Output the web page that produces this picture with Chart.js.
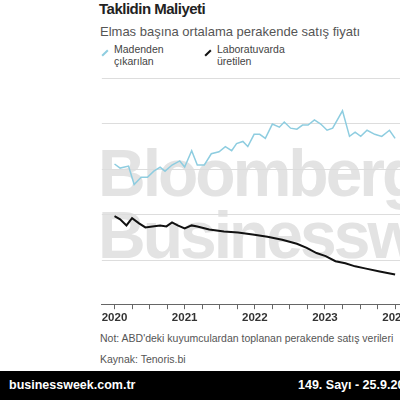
<!DOCTYPE html><html><head><script src="https://cdn.jsdelivr.net/npm/chart.js@4"></script>
<style>body{margin:0;width:400px;height:400px;overflow:hidden;position:relative;background:#fff;font-family:Arial,"Liberation Sans",sans-serif}
.a{position:absolute;white-space:nowrap}
</style></head><body>
<div class="a" style="left:99px;top:0px;font-size:15px;font-weight:bold;color:#222;letter-spacing:-0.5px">Taklidin Maliyeti</div>
<div class="a" style="left:100px;top:24px;font-size:13px;color:#555">Elmas başına ortalama perakende satış fiyatı</div>
<div class="a" style="left:101px;top:52px;width:8px;height:2px;background:#8ecde0;transform:rotate(-45deg)"></div>
<div class="a" style="left:114px;top:43px;font-size:10.5px;color:#444;line-height:12px">Madenden<br>çıkarılan</div>
<div class="a" style="left:204px;top:52px;width:8px;height:2px;background:#111;transform:rotate(-45deg)"></div>
<div class="a" style="left:217px;top:43px;font-size:10.5px;color:#444;line-height:12px">Laboratuvarda<br>üretilen</div>
<div class="a" style="left:98px;top:142px;font-size:66px;font-weight:bold;color:#e3e3e3;letter-spacing:-3px;line-height:62px">Bloomberg<br>Businessweek</div>
<div class="a" style="left:100px;top:77px;width:380px;height:250px"><canvas id="c"></canvas></div>
<div class="a" style="left:100px;top:332px;font-size:10.5px;color:#555">Not: ABD'deki kuyumculardan toplanan perakende satış verileri</div>
<div class="a" style="left:100px;top:353px;font-size:10.5px;color:#555">Kaynak: Tenoris.bi</div>
<div class="a" style="left:0;top:371px;width:400px;height:29px;background:#000"></div>
<div class="a" style="left:9px;top:378px;font-size:12.5px;font-weight:bold;color:#fff">businessweek.com.tr</div>
<div class="a" style="left:298px;top:378px;font-size:12.5px;font-weight:bold;color:#fff">149. Sayı - 25.9.2024</div>
<script>
const minedX=[2020.0,2020.08,2020.2,2020.28,2020.38,2020.47,2020.56,2020.65,2020.72,2020.82,2020.93,2021.0,2021.1,2021.18,2021.28,2021.38,2021.49,2021.58,2021.67,2021.74,2021.83,2021.9,2021.99,2022.07,2022.15,2022.25,2022.35,2022.42,2022.51,2022.6,2022.68,2022.76,2022.85,2022.94,2023.03,2023.11,2023.25,2023.35,2023.43,2023.51,2023.6,2023.71,2023.81,2023.92,2024.0];
const minedY=[165,169,167,185,178,178,172,168,172,166,162,168,152,166,166,155,153,148,152,145,143,148,136,136,140,126,129,124,130,131,127,127,122,126,132,130,113,138,134,138,132,136,138,132,140];
const labX=[2020.0,2020.08,2020.17,2020.25,2020.35,2020.44,2020.54,2020.65,2020.74,2020.82,2020.9,2021.0,2021.1,2021.18,2021.35,2021.56,2021.76,2021.97,2022.18,2022.39,2022.6,2022.74,2022.88,2023.01,2023.15,2023.29,2023.43,2023.57,2023.78,2024.0];
const labY=[216,219,225,218,223,227,226,225,226,222,225,228,225,226,229,231,232,234,236,239,243,247,252,255,260,262,265,267,270,273];
const yearTicks=[2020,2021,2022,2023,2024];
const toVal=y=>1000+(259-y)/44.5*1000;
const mk=(xs,ys)=>xs.map((x,i)=>({x,y:toVal(ys[i])}));
new Chart(document.getElementById('c'),{type:'line',
data:{datasets:[
{data:mk(minedX,minedY),borderColor:'#8ecde0',borderWidth:1.5,pointRadius:0,tension:0},
{data:mk(labX,labY),borderColor:'#111',borderWidth:2,pointRadius:0,tension:0}]},
options:{animation:false,responsive:true,maintainAspectRatio:false,
layout:{padding:0},
plugins:{legend:{display:false},tooltip:{enabled:false}},
scales:{
x:{type:'linear',min:2020-13/72,max:2020-13/72+380/72,
afterBuildTicks:a=>{const t=[];for(let v=2020;v<=2025;v+=0.25)t.push({value:v});a.ticks=t;},
ticks:{autoSkip:false,maxRotation:0,color:'#333',font:{size:11.5,weight:'bold'},padding:2,callback:v=>Number.isInteger(v)?String(v):''},
grid:{drawOnChartArea:false,tickLength:5,color:'#666'},border:{color:'#666',width:1}},
y:{min:toVal(302),max:toVal(80),position:'right',
afterBuildTicks:a=>{a.ticks=[1000,2000,3000,4000,5000].map(v=>({value:v}));},
ticks:{display:false},grid:{color:'#ddd',drawTicks:false},border:{display:false}}}}});
</script></body></html>
